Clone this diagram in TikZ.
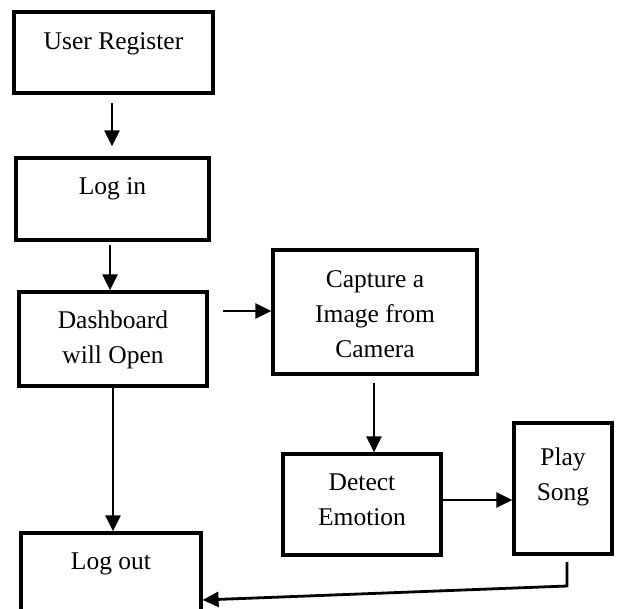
\documentclass[tikz,border=0pt]{standalone}
\usepackage{fontspec}
\setmainfont{Liberation Serif}
\usetikzlibrary{arrows.meta,calc}
\begin{document}
\begin{tikzpicture}[x=1pt,y=-1pt,
  box/.style={draw=black,line width=3.2pt,rectangle,inner sep=0pt},
  lbl/.style={inner sep=0pt,anchor=base,align=center,font=\fontsize{25.5}{35}\selectfont},
  arr/.style={draw=black,line width=2.8pt,-{Triangle[length=16pt,width=15pt]}}]
\useasboundingbox[fill=white] (0,0) rectangle (618,608);
% boxes
\node[box,minimum width=199pt,minimum height=81pt] (ur) at (113.5,52.5) {};
\node[box,minimum width=193pt,minimum height=82pt] (li) at (112.5,199) {};
\node[box,minimum width=188pt,minimum height=94pt] (db) at (113,339) {};
\node[box,minimum width=204pt,minimum height=124pt] (cap) at (375,312) {};
\node[box,minimum width=158pt,minimum height=101pt] (det) at (362,504.5) {};
\node[box,minimum width=98pt,minimum height=131pt] (play) at (563,488.5) {};
\node[box,minimum width=180pt,minimum height=85pt] (lo) at (111,575.5) {};
% texts (anchored at the baseline of the last line)
\node[lbl] (urt) at (113.5,49) {User Register};
\node[lbl] (lit) at (112.5,194) {Log in};
\node[lbl] (dbt) at (113,363) {Dashboard\\will Open};
\node[lbl] (capt) at (375,357) {Capture a\\Image from\\Camera};
\node[lbl] (dett) at (362,525) {Detect\\Emotion};
\node[lbl] (playt) at (563,500) {Play\\Song};
\node[lbl] (lot) at (111,569) {Log out};
% connectors
\coordinate (a1) at (112,103);
\coordinate (a2) at (110,245);
\coordinate (a3) at (223,311);
\coordinate (a4) at (374,383);
\coordinate (a5) at (113,386);
\coordinate (p1) at (567,562);
\coordinate (p2) at (567,586);
\draw[arr,shorten >=10pt] (a1) -- (a1 |- li.north);
\draw[arr] (a2) -- (a2 |- db.north);
\draw[arr] (a3) -- (a3 -| cap.west);
\draw[arr] (a4) -- (a4 |- det.north);
\draw[arr] (a5) -- (a5 |- lo.north);
\draw[arr] (det.east |- 0,500) -- (play.west |- 0,500);
\draw[arr] (p1) -- (p2) -- (lo.east |- 0,600);
\end{tikzpicture}
\end{document}
